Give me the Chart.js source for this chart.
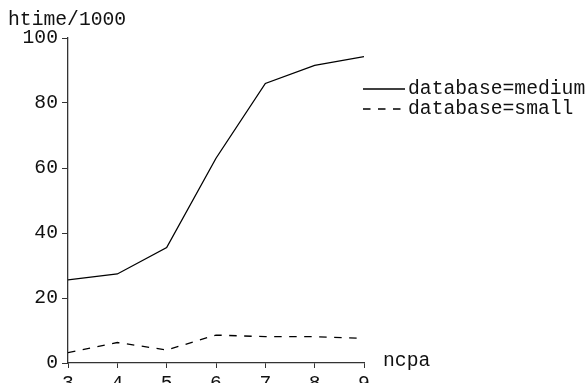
<!DOCTYPE html>
<html><head><meta charset="utf-8">
<script src="https://cdn.jsdelivr.net/npm/chart.js@4/dist/chart.umd.min.js"></script>
<style>html,body{margin:0;padding:0;background:#fff}#wrap{width:587px;height:383px}</style>
</head><body><div id="wrap"><canvas id="c" width="587" height="383"></canvas></div>
<script>
const ncpa = [3, 4, 5, 6, 7, 8, 9];
const medium = [25.6, 27.4, 35.5, 63, 86, 91.6, 94.3];
const small = [3.2, 6.3, 4.0, 8.6, 8.1, 8.1, 7.6];
const seriesLabels = ['database=medium', 'database=small'];
const yTitle = 'htime/1000';
const xTitle = 'ncpa';
const FONT = '"Liberation Mono", "Courier New", monospace';
const FS = 19.7;

const overlay = {
  id: 'overlay',
  afterDraw(chart) {
    const ctx = chart.ctx;
    const a = chart.chartArea;
    ctx.save();
    ctx.fillStyle = '#111';
    ctx.font = FS + 'px ' + FONT;
    ctx.textBaseline = 'middle';
    ctx.textAlign = 'left';
    ctx.fillText(yTitle, 8, 20);
    ctx.fillText(xTitle, a.right + 19, a.bottom - 2);
    chart.data.datasets.forEach((ds, i) => {
      const y = 89 + i * 20;
      ctx.beginPath();
      ctx.strokeStyle = '#000';
      ctx.lineWidth = 1.3;
      ctx.setLineDash(ds.borderDash || []);
      ctx.moveTo(a.right - 1, y);
      ctx.lineTo(a.right + 41, y);
      ctx.stroke();
      ctx.setLineDash([]);
      ctx.fillText(ds.label, a.right + 44, y);
    });
    ctx.restore();
  }
};

new Chart(document.getElementById('c'), {
  type: 'line',
  data: {
    datasets: [
      { label: seriesLabels[0], data: ncpa.map((x, i) => ({x, y: medium[i]})), borderColor: '#000', borderWidth: 1.3, pointRadius: 0, fill: false, tension: 0 },
      { label: seriesLabels[1], data: ncpa.map((x, i) => ({x, y: small[i]})), borderColor: '#000', borderWidth: 1.3, borderDash: [7.5, 7.5], pointRadius: 0, fill: false, tension: 0 }
    ]
  },
  options: {
    responsive: false,
    animation: false,
    devicePixelRatio: 1,
    layout: { padding: { left: 0, right: 223, top: 38, bottom: 0 } },
    plugins: { legend: { display: false }, tooltip: { enabled: false } },
    scales: {
      x: {
        type: 'linear', min: 3, max: 9,
        ticks: { stepSize: 1, color: '#111', font: { family: FONT, size: FS }, padding: 4, maxRotation: 0, autoSkip: false },
        grid: { display: true, drawOnChartArea: false, drawTicks: true, tickLength: 5, color: '#333' },
        border: { display: true, color: '#333', width: 1.3 },
        afterFit(s) { s.height = 20; }
      },
      y: {
        min: 0, max: 100,
        ticks: { stepSize: 20, color: '#111', font: { family: FONT, size: FS }, padding: 4 },
        grid: { display: true, drawOnChartArea: false, drawTicks: true, tickLength: 6, color: '#333' },
        border: { display: true, color: '#333', width: 1.3 },
        afterFit(s) { s.width = 68; }
      }
    }
  },
  plugins: [overlay]
});
</script></body></html>
